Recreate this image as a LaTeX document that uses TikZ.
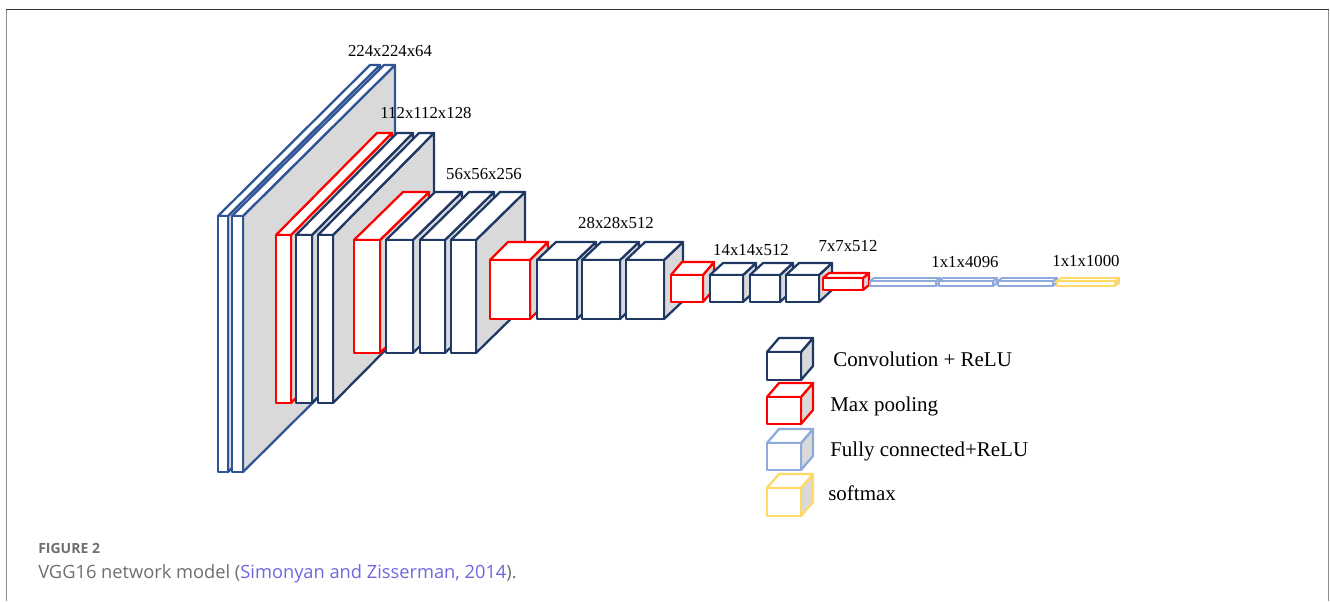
\documentclass[tikz,border=0pt]{standalone}
\usepackage{fontspec}
\setmainfont{Liberation Serif}
\newfontfamily\capfont{Open Sans}
\definecolor{convA}{HTML}{2F5597}
\definecolor{conv}{HTML}{1F3864}
\definecolor{pool}{HTML}{FF0000}
\definecolor{fc}{HTML}{8EA9DB}
\definecolor{soft}{HTML}{FFD966}
\definecolor{side}{HTML}{D9D9D9}
\definecolor{capgray}{HTML}{6E6E6E}
\definecolor{citeblue}{HTML}{6F66E0}
\newcommand{\vggblock}[7]{% x y w h dx dy color
  \draw[blockline,draw=#7,fill=side] ({#1+#3},#2) -- ++(#5,-#6) -- ++(0,#4) -- ++(-#5,#6) -- cycle;
  \draw[blockline,draw=#7,fill=white] (#1,#2) -- ++(#5,-#6) -- ++(#3,0) -- ++(-#5,#6) -- cycle;
  \draw[blockline,draw=#7,fill=white] (#1,#2) rectangle ++(#3,#4);
}
\tikzset{
  blockline/.style={line width=1.7pt,line join=round},
  lab/.style={inner sep=0pt,font=\fontsize{12.6pt}{14pt}\selectfont},
  legtext/.style={inner sep=0pt,anchor=base west,font=\fontsize{15.75pt}{18pt}\selectfont},
}
\begin{document}
\begin{tikzpicture}[x=0.75pt,y=-0.75pt]
\useasboundingbox (0,0) rectangle (1330,601);
% frame
\draw[line width=1.1pt,draw=black!80] (6,9.5) -- (1329,9.5);
\draw[line width=1.1pt,draw=black!45] (6.5,9.5) -- (6.5,601);
\draw[line width=1.1pt,draw=black!45] (1328.5,9.5) -- (1328.5,601);
% 224 blocks
\vggblock{218}{216}{10}{256}{152}{151}{convA}
\vggblock{232}{216}{11}{256}{152}{151}{convA}
% 112 blocks
\vggblock{276}{235}{15}{168}{101}{102}{pool}
\vggblock{296}{235}{16}{168}{101}{102}{conv}
\vggblock{318}{235}{15}{168}{101}{102}{conv}
% 56 blocks
\vggblock{354}{240}{26}{113}{49}{48}{pool}
\vggblock{386}{240}{27}{113}{49}{48}{conv}
\vggblock{420}{240}{25}{113}{49}{48}{conv}
\vggblock{451}{240}{25}{113}{49}{48}{conv}
% 28 blocks
\vggblock{490}{260}{40}{59}{18}{18}{pool}
\vggblock{537}{260}{40}{59}{19}{18}{conv}
\vggblock{582}{260}{38}{59}{19}{18}{conv}
\vggblock{626}{260}{38}{59}{19}{18}{conv}
% 14 blocks
\vggblock{671}{275}{32}{27}{11}{13}{pool}
\vggblock{710}{275}{33}{27}{13}{12}{conv}
\vggblock{750}{275}{30}{27}{13}{12}{conv}
\vggblock{786}{275}{33}{27}{13}{12}{conv}
% 7 block
\vggblock{823}{278}{40}{12}{6}{5}{pool}
% fully connected
\tikzset{blockline/.style={line width=1.4pt,line join=round}}
\vggblock{870}{281}{66}{5}{4}{3}{fc}
\vggblock{939}{281}{54}{5}{4}{3}{fc}
\vggblock{998}{281}{55}{5}{4}{3}{fc}
\vggblock{1057}{281}{58}{5}{4}{3}{soft}
% legend
\tikzset{blockline/.style={line width=1.7pt,line join=round}}
\vggblock{767}{352}{34}{28}{12}{14}{conv}
\vggblock{767}{397}{34}{27}{12}{14}{pool}
\vggblock{767}{443}{34}{27}{12}{14}{fc}
\vggblock{767}{488}{34}{28}{12}{14}{soft}
\node[legtext] (tconv) at (833,366) {Convolution + ReLU};
\node[legtext] (tpool) at (830,411) {Max pooling};
\node[legtext] (tfc) at (830,456) {Fully connected+ReLU};
\node[legtext] (tsoft) at (828,500) {softmax};
% size labels
\node[lab] (l224) at (390,51) {224x224x64};
\node[lab] (l112) at (426,113) {112x112x128};
\node[lab] (l56) at (484,174) {56x56x256};
\node[lab] (l28) at (616,223) {28x28x512};
\node[lab] (l14) at (751,250) {14x14x512};
\node[lab] (l7) at (848,246) {7x7x512};
\node[lab] (l4096) at (965,262) {1x1x4096};
\node[lab] (l1000) at (1086,261) {1x1x1000};
% caption
\node[inner sep=0pt,anchor=base west,text=capgray,font=\capfont\bfseries\fontsize{10.5pt}{12pt}\selectfont] (fig) at (38,553) {FIGURE 2};
\node[inner sep=0pt,anchor=base west,text=capgray,font=\capfont\fontsize{13.7pt}{16pt}\selectfont] (cap) at (38,578) {VGG16 network model (\textcolor{citeblue}{Simonyan and Zisserman, 2014}).};
\end{tikzpicture}
\end{document}
